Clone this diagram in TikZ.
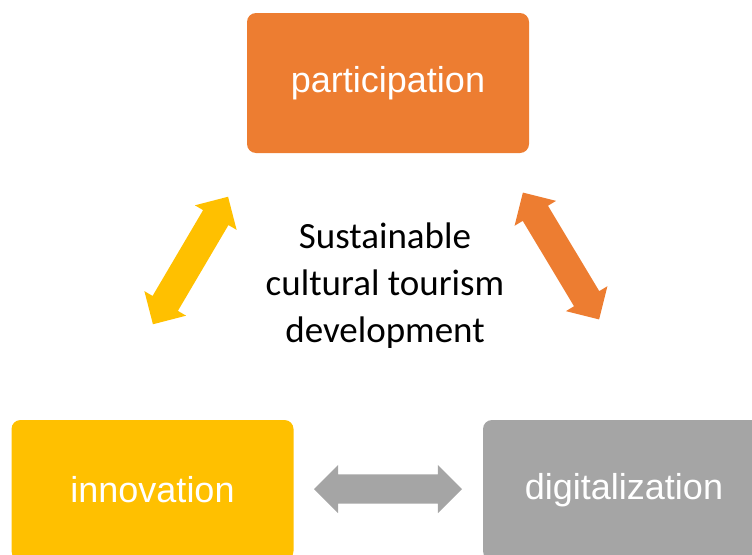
\documentclass[tikz,border=0pt]{standalone}
\usepackage{fontspec}
\setmainfont{Carlito}
\newfontfamily\boxfont{Liberation Sans}
\usetikzlibrary{shapes.arrows}

\definecolor{partorange}{HTML}{ED7D31}
\definecolor{innoyellow}{HTML}{FFC000}
\definecolor{digigray}{HTML}{A5A5A5}

\tikzset{
  pillar/.style={rectangle, rounded corners=9pt, minimum width=282pt,
    minimum height=140pt, inner sep=0pt, text=white,
    font=\boxfont\fontsize{36}{40}\selectfont},
  link/.style={double arrow, double arrow head extend=9.5pt,
    minimum height=148pt, inner xsep=0pt, inner ysep=14.5pt}
}

\begin{document}
\begin{tikzpicture}[x=1pt,y=1pt]
\clip (0,0) rectangle (752,-554);
\useasboundingbox (0,0) rectangle (752,-554);

% the three pillars
\node [pillar, fill=partorange] (part) at (388,-83)   {participation};
\node [pillar, fill=innoyellow] (inno) at (152.5,-490) {innovation};
\node [pillar, fill=digigray]   (digi) at (624,-490)   {digitalization};

% goal in the middle
\node [align=center, font=\fontsize{37}{47}\selectfont] (goal) at (385,-286)
  {Sustainable\\cultural tourism\\development};

% links between the pillars
\node [link, fill=innoyellow, rotate=59.5] (l1) at (190.5,-260.5) {};
\node [link, fill=partorange, rotate=-59]  (l2) at (561,-256)     {};
\node [link, fill=digigray]                (l3) at (388,-489)     {};

\end{tikzpicture}
\end{document}
